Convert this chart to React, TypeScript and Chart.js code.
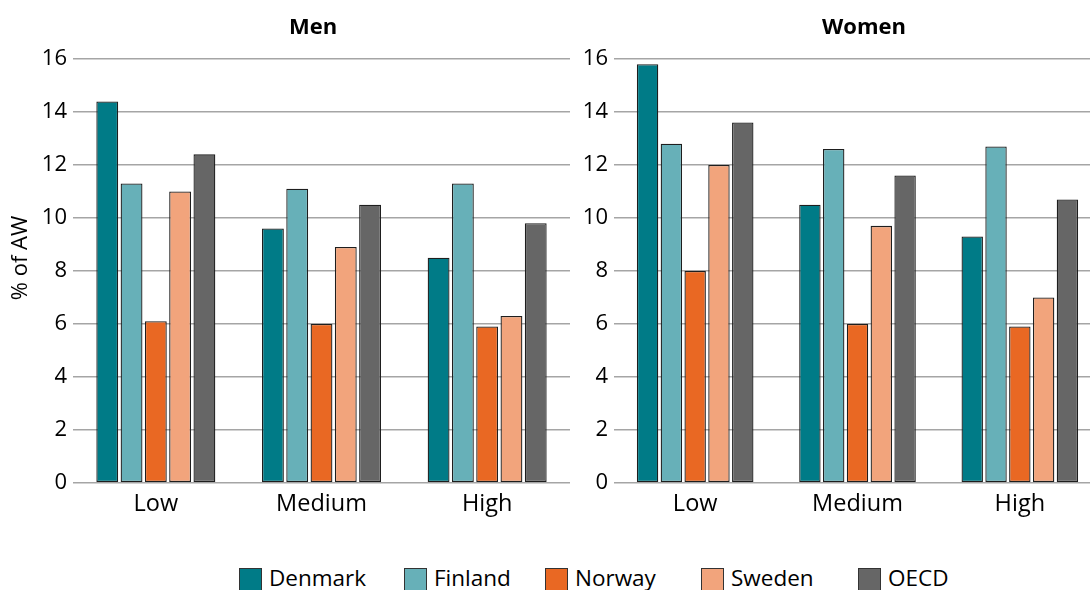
import React, { useEffect, useRef } from "react";
import { Chart, registerables } from "chart.js";

Chart.register(...registerables);

const categories = ["Low", "Medium", "High"];
const countries = ["Denmark", "Finland", "Norway", "Sweden", "OECD"];
const colors = ["#007B87", "#67B0B8", "#E96823", "#F2A47C", "#666666"];

// Men, % of AW, per education level (Low, Medium, High)
const menDenmark = [14.4, 9.6, 8.5];
const menFinland = [11.3, 11.1, 11.3];
const menNorway = [6.1, 6.0, 5.9];
const menSweden = [11.0, 8.9, 6.3];
const menOECD = [12.4, 10.5, 9.8];

// Women, % of AW
const womenDenmark = [15.8, 10.5, 9.3];
const womenFinland = [12.8, 12.6, 12.7];
const womenNorway = [8.0, 6.0, 5.9];
const womenSweden = [12.0, 9.7, 7.0];
const womenOECD = [13.6, 11.6, 10.7];

const yTicks = [0, 2, 4, 6, 8, 10, 12, 14, 16];
const yAxisTitle = "% of AW";

const FONT = "'Open Sans', 'Noto Sans', sans-serif";

function buildDatasets(series: number[][]) {
  return series.map((data, i) => ({
    label: countries[i],
    data,
    backgroundColor: colors[i],
    borderColor: "#1E1E1E",
    borderWidth: 1.3,
    borderSkipped: false,
    barPercentage: 0.9,
    categoryPercentage: 0.733,
  }));
}

// draws the rotated y-axis title at a fixed spot left of the axis
const yTitlePlugin = {
  id: "yTitleFixed",
  afterDraw(chart: any, _args: any, opts: any) {
    if (!opts || !opts.text) return;
    const ctx = chart.ctx;
    ctx.save();
    ctx.translate(opts.x, opts.y);
    ctx.rotate(-Math.PI / 2);
    ctx.font = `22px ${FONT}`;
    ctx.fillStyle = "#000000";
    ctx.textAlign = "center";
    ctx.textBaseline = "middle";
    ctx.fillText(opts.text, 0, 0);
    ctx.restore();
  },
};

function makeOptions(axisWidth: number, showTitle: boolean, padRight: number) {
  return {
    responsive: false,
    maintainAspectRatio: false,
    animation: false as const,
    layout: { padding: { top: 59, bottom: 0, left: 0, right: padRight } },
    plugins: {
      legend: { display: false },
      title: { display: false },
      tooltip: { enabled: false },
      yTitleFixed: showTitle ? { text: yAxisTitle, x: 21, y: 258 } : { text: "" },
    },
    scales: {
      x: {
        type: "category" as const,
        grid: { display: false, drawTicks: false },
        border: { display: false },
        ticks: {
          color: "#000000",
          font: { family: FONT, size: 23.5 },
          padding: 7,
        },
      },
      y: {
        min: 0,
        max: 16,
        afterBuildTicks: (scale: any) => {
          scale.ticks = yTicks.map((v) => ({ value: v }));
        },
        afterFit: (scale: any) => {
          scale.width = axisWidth;
        },
        grid: { color: "#A5A5A5", lineWidth: 1.5, drawTicks: false },
        border: { display: false },
        ticks: {
          color: "#000000",
          font: { family: FONT, size: 22 },
          padding: 6,
        },
      },
    },
  };
}

const CANVAS_H = 525;

function Panel(props: { series: number[][]; left: number; width: number; axisWidth: number; showTitle: boolean; padRight: number }) {
  const ref = useRef<HTMLCanvasElement | null>(null);
  useEffect(() => {
    if (!ref.current) return;
    const chart = new Chart(ref.current, {
      type: "bar",
      data: { labels: categories, datasets: buildDatasets(props.series) },
      options: makeOptions(props.axisWidth, props.showTitle, props.padRight) as any,
      plugins: [yTitlePlugin],
    });
    return () => chart.destroy();
  }, []);
  return (
    <canvas
      ref={ref}
      width={props.width}
      height={CANVAS_H}
      style={{ position: "absolute", left: props.left, top: 0, width: props.width, height: CANVAS_H }}
    />
  );
}

const legendLefts = [239, 404, 545, 701, 858];

export default function App() {
  const menSeries = [menDenmark, menFinland, menNorway, menSweden, menOECD];
  const womenSeries = [womenDenmark, womenFinland, womenNorway, womenSweden, womenOECD];
  const titleStyle: React.CSSProperties = {
    position: "absolute",
    top: 14,
    width: 200,
    textAlign: "center",
    fontFamily: FONT,
    fontWeight: 700,
    fontSize: 22,
    lineHeight: "22px",
    color: "#000",
  };
  return (
    <div
      style={{
        position: "fixed",
        left: 0,
        top: 0,
        width: 1090,
        height: 590,
        overflow: "hidden",
        background: "#ffffff",
      }}
    >
      <Panel series={menSeries} left={0} width={575} axisWidth={73} showTitle={true} padRight={5} />
      <Panel series={womenSeries} left={575} width={530} axisWidth={39} showTitle={false} padRight={4} />
      <div style={{ ...titleStyle, left: 313 - 100 }}>Men</div>
      <div style={{ ...titleStyle, left: 864 - 100 }}>Women</div>
      {countries.map((c, i) => (
        <div key={c} style={{ position: "absolute", left: legendLefts[i], top: 568, height: 30, whiteSpace: "nowrap" }}>
          <div
            style={{
              position: "absolute",
              left: 0,
              top: 0,
              width: 21,
              height: 21,
              background: colors[i],
              border: "1px solid #333333",
            }}
          />
          <div
            style={{
              position: "absolute",
              left: 30,
              top: -1,
              fontFamily: FONT,
              fontSize: 22.5,
              lineHeight: "22px",
              color: "#000",
            }}
          >
            {c}
          </div>
        </div>
      ))}
    </div>
  );
}
